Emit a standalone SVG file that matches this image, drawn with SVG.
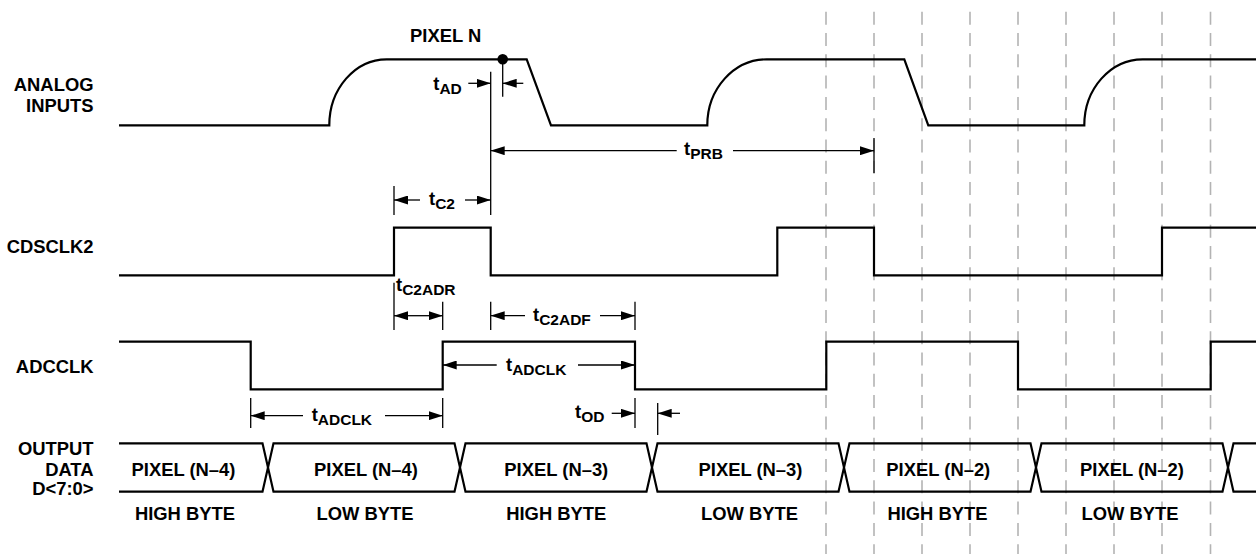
<svg xmlns="http://www.w3.org/2000/svg" width="1256" height="554" viewBox="0 0 1256 554">
<style>
text{font-family:"Liberation Sans",Arial,Helvetica,sans-serif;font-weight:bold;font-size:18.4px;fill:#000}
.r{text-anchor:end}
.m{text-anchor:middle}
.sub{font-size:15.5px}
.sig{fill:none;stroke:#000;stroke-width:2.2;stroke-linejoin:miter}
.dash{stroke:#b3b3b3;stroke-width:1.6;stroke-dasharray:13 8.3}
.tick{stroke:#000;stroke-width:1.3}
.arr{stroke:#000;stroke-width:1.3;marker-end:url(#ah)}
</style>
<defs>
<marker id="ah" viewBox="0 0 14 9" refX="14" refY="4.5" markerWidth="14" markerHeight="9" orient="auto" markerUnits="userSpaceOnUse">
<path d="M0,0 L14,4.5 L0,9 Z" fill="#000"/>
</marker>
</defs>
<rect width="1256" height="554" fill="#fff"/>
<g id="grid">
<line class="dash" x1="826" y1="11.7" x2="826" y2="554"/>
<line class="dash" x1="874" y1="11.7" x2="874" y2="554"/>
<line class="dash" x1="922" y1="11.7" x2="922" y2="554"/>
<line class="dash" x1="970" y1="11.7" x2="970" y2="554"/>
<line class="dash" x1="1018" y1="11.7" x2="1018" y2="554"/>
<line class="dash" x1="1066" y1="11.7" x2="1066" y2="554"/>
<line class="dash" x1="1114" y1="11.7" x2="1114" y2="554"/>
<line class="dash" x1="1162" y1="11.7" x2="1162" y2="554"/>
<line class="dash" x1="1210.5" y1="11.7" x2="1210.5" y2="554"/>
</g>
<g id="analog">
<text class="r" x="93.5" y="91">ANALOG</text>
<text class="r" x="93.5" y="111.7">INPUTS</text>
<path class="sig" d="M119,125.3 H329.3 A57.4,66 0 0 1 386.7,59.3 H526.7 L551,125.3 H707.3 A59.4,66 0 0 1 766.7,59.3 H904.3 L928.3,125.3 H1084.3 A58.4,66 0 0 1 1142.7,59.3 H1256"/>
<circle cx="502.7" cy="59.3" r="5.3" fill="#000"/>
<text x="410" y="41.7">PIXEL N</text>
</g>
<g id="cdsclk2">
<text class="r" x="93.5" y="253.3">CDSCLK2</text>
<path class="sig" d="M119,275.3 H394 V227.7 H490.7 V275.3 H777.3 V227.7 H874 V275.3 H1162 V227.7 H1256"/>
</g>
<g id="adcclk">
<text class="r" x="93.5" y="372.7">ADCCLK</text>
<path class="sig" d="M119,341.7 H250.7 V389.3 H442.7 V341.7 H635 V389.3 H826.3 V341.7 H1018 V389.3 H1210.7 V341.7 H1256"/>
</g>
<g id="output">
<text class="r" x="93.5" y="455">OUTPUT</text>
<text class="r" x="93.5" y="476">DATA</text>
<text class="r" x="93.5" y="495">D&lt;7:0&gt;</text>
<path class="sig" d="M119,443.3 H262.5 L273.5,491.7 H454.5 L465.5,443.3 H646.5 L657.5,491.7 H838.5 L849.5,443.3 H1030.5 L1041.5,491.7 H1222.5 L1233.5,443.3 H1256"/>
<path class="sig" d="M119,491.7 H262.5 L273.5,443.3 H454.5 L465.5,491.7 H646.5 L657.5,443.3 H838.5 L849.5,491.7 H1030.5 L1041.5,443.3 H1222.5 L1233.5,491.7 H1256"/>
<text class="m" x="183.5" y="476">PIXEL (N–4)</text>
<text class="m" x="366" y="476">PIXEL (N–4)</text>
<text class="m" x="556.3" y="476">PIXEL (N–3)</text>
<text class="m" x="750.5" y="476">PIXEL (N–3)</text>
<text class="m" x="938.3" y="476">PIXEL (N–2)</text>
<text class="m" x="1132" y="476">PIXEL (N–2)</text>
<text class="m" x="185" y="520">HIGH BYTE</text>
<text class="m" x="365" y="520">LOW BYTE</text>
<text class="m" x="556.3" y="520">HIGH BYTE</text>
<text class="m" x="749.5" y="520">LOW BYTE</text>
<text class="m" x="937.5" y="520">HIGH BYTE</text>
<text class="m" x="1130" y="520">LOW BYTE</text>
</g>
<g id="connectors">
<!-- ticks -->
<line class="tick" x1="490.7" y1="71.7" x2="490.7" y2="215"/>
<line class="tick" x1="502.7" y1="59.3" x2="502.7" y2="96.7"/>
<line class="tick" x1="874" y1="138" x2="874" y2="173"/>
<line class="tick" x1="394" y1="186" x2="394" y2="215"/>
<line class="tick" x1="394" y1="282.7" x2="394" y2="330"/>
<line class="tick" x1="442.7" y1="301.7" x2="442.7" y2="330"/>
<line class="tick" x1="490.7" y1="301.7" x2="490.7" y2="330"/>
<line class="tick" x1="635" y1="301.7" x2="635" y2="330"/>
<line class="tick" x1="250.7" y1="398" x2="250.7" y2="428"/>
<line class="tick" x1="442.7" y1="398" x2="442.7" y2="428"/>
<line class="tick" x1="635" y1="398" x2="635" y2="428"/>
<line class="tick" x1="657.7" y1="403" x2="657.7" y2="435"/>
<!-- tAD -->
<line class="arr" x1="468.3" y1="83.3" x2="490.7" y2="83.3"/>
<line class="arr" x1="523.3" y1="83.3" x2="502.7" y2="83.3"/>
<text x="433.3" y="90">t<tspan class="sub" dy="4">AD</tspan></text>
<!-- tPRB -->
<line class="arr" x1="676.7" y1="150.7" x2="490.7" y2="150.7"/>
<line class="arr" x1="733" y1="150.7" x2="874" y2="150.7"/>
<text x="684" y="155">t<tspan class="sub" dy="4">PRB</tspan></text>
<!-- tC2 -->
<line class="arr" x1="420" y1="200" x2="394" y2="200"/>
<line class="arr" x1="465" y1="200" x2="490.7" y2="200"/>
<text x="429" y="205">t<tspan class="sub" dy="4">C2</tspan></text>
<!-- tC2ADR -->
<line class="arr" x1="418" y1="315.7" x2="394" y2="315.7"/>
<line class="arr" x1="418" y1="315.7" x2="442.7" y2="315.7"/>
<text x="396" y="291">t<tspan class="sub" dy="4">C2ADR</tspan></text>
<!-- tC2ADF -->
<line class="arr" x1="525" y1="315.7" x2="490.7" y2="315.7"/>
<line class="arr" x1="600" y1="315.7" x2="635" y2="315.7"/>
<text x="533" y="321">t<tspan class="sub" dy="4">C2ADF</tspan></text>
<!-- tADCLK upper -->
<line class="arr" x1="496.7" y1="365" x2="442.7" y2="365"/>
<line class="arr" x1="578" y1="365" x2="635" y2="365"/>
<text x="506" y="370.5">t<tspan class="sub" dy="4">ADCLK</tspan></text>
<!-- tADCLK lower -->
<line class="arr" x1="303" y1="415.7" x2="250.7" y2="415.7"/>
<line class="arr" x1="385" y1="415.7" x2="442.7" y2="415.7"/>
<text x="311.7" y="421">t<tspan class="sub" dy="4">ADCLK</tspan></text>
<!-- tOD -->
<line class="arr" x1="611.7" y1="413.3" x2="635" y2="413.3"/>
<line class="arr" x1="680" y1="413.3" x2="657.7" y2="413.3"/>
<text x="575" y="417.5">t<tspan class="sub" dy="4">OD</tspan></text>
</g>
</svg>
